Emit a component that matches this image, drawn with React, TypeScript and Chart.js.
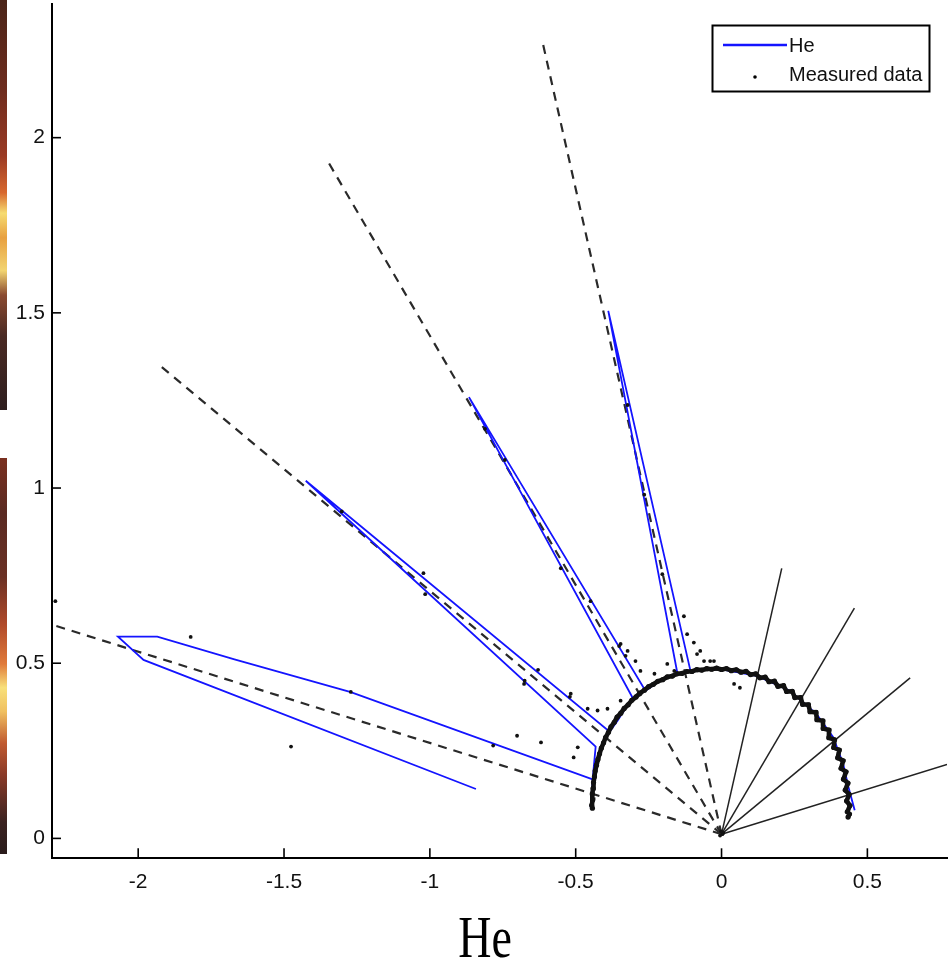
import React, { useEffect, useRef } from "react";
import { Chart, registerables } from "chart.js";

Chart.register(...registerables);

// ---- axis setup ----
const xTicks = [-2, -1.5, -1, -0.5, 0, 0.5];
const yTicks = [0, 0.5, 1, 1.5, 2];
const xMin = -2.2955;
const xMax = 0.773;
const yMin = -0.0568;
const yMax = 2.3815;
const xTitle = "He";

// ---- reference rays (from the origin) ----
const rayOriginX = 0;
const rayOriginY = 0.012;
const dashedEndX = [-2.2955, -1.926, -1.346, -0.6124];
const dashedEndY = [0.61, 1.35, 1.927, 2.268];
const solidEndX = [0.2064, 0.4555, 0.6466, 0.773];
const solidEndY = [0.7708, 0.6571, 0.4583, 0.2111];

// ---- "He" model curve (null = break) ----
const heX = [
  -0.4487, -0.4418, -1.271, -1.67, -1.9346, -2.0693, -1.9817, -0.8421, null,
  -0.4418, -0.4316, -1.4255, -0.3838, -0.3566, -0.3054, -0.8659, -0.261, -0.2201,
  -0.1518, -0.3883, -0.1065, -0.0041, 0.1211, 0.2347, 0.3258, 0.3828, 0.4169, 0.435, 0.4565,
];
const heY = [
  0.0889, 0.1685, 0.4176, 0.5108, 0.5761, 0.5761, 0.5094, 0.1409, null,
  0.1685, 0.2622, 1.0207, 0.3048, 0.3361, 0.4023, 1.2594, 0.4213, 0.4449,
  0.4733, 1.5057, 0.4781, 0.483, 0.4639, 0.4213, 0.3551, 0.2886, 0.2131, 0.1466, 0.0804,
];

// ---- measured data: dense arc (polar angle in degrees, radius) ----
const measArcDeg = [
  169, 168, 166, 164, 162, 160, 158, 156, 154, 152, 150, 148, 146, 144, 142, 140, 138, 136,
  134, 132, 130, 128, 126, 124, 122, 120, 118, 116, 114, 112, 110, 108, 106, 104, 102, 100,
  98, 96, 94, 92, 90, 88, 86, 84, 82, 80, 78, 76, 74, 72, 70, 68, 66, 64, 62, 60, 58, 56,
  54, 52, 50, 48, 46, 44, 42, 40, 38, 36, 34, 32, 30, 28, 26, 24, 22, 20, 18, 16, 14, 12,
  10, 9, 8,
];
const measArcR = [
  0.451, 0.455, 0.455, 0.461, 0.463, 0.467, 0.47, 0.474, 0.477, 0.48, 0.483, 0.486, 0.488,
  0.491, 0.492, 0.495, 0.495, 0.498, 0.497, 0.499, 0.498, 0.5, 0.499, 0.5, 0.499, 0.5,
  0.498, 0.499, 0.496, 0.497, 0.493, 0.494, 0.49, 0.491, 0.487, 0.489, 0.485, 0.487, 0.484,
  0.486, 0.482, 0.485, 0.48, 0.484, 0.479, 0.484, 0.478, 0.484, 0.477, 0.484, 0.476, 0.484,
  0.475, 0.485, 0.475, 0.485, 0.474, 0.485, 0.473, 0.484, 0.472, 0.484, 0.471, 0.483, 0.469,
  0.481, 0.467, 0.479, 0.464, 0.476, 0.46, 0.472, 0.456, 0.467, 0.451, 0.461, 0.446, 0.455,
  0.442, 0.45, 0.438, 0.444, 0.438,
];

// ---- measured data: scattered points ----
const measX = [
  -1.82, -1.271, -1.476, -0.783, -0.701, -0.619, -0.507, -0.629, -0.677, -0.52, -0.459, -0.425,
  -2.284, -1.302, -1.022, -1.016, -0.675, -0.517, -0.743, -0.811, -0.551, -0.449, -0.351, -0.329,
  -0.322, -0.265, -0.203, -0.129, -0.118, -0.095, -0.073, -0.039, -0.186, -0.295, -0.322, -0.346,
  -0.493, -0.391, -0.346, -0.278, -0.23, -0.162, -0.084, -0.06, -0.026, 0.043, 0.063,
  0.003, -0.005, 0.006, -0.002,
];
const measY = [
  0.575, 0.418, 0.262, 0.265, 0.293, 0.274, 0.231, 0.481, 0.441, 0.404, 0.37, 0.365,
  0.677, 0.933, 0.757, 0.697, 0.45, 0.413, 1.08, 1.169, 0.771, 0.677, 0.549, 0.521,
  1.237, 0.981, 0.754, 0.634, 0.583, 0.559, 0.535, 0.506, 0.498, 0.506, 0.535, 0.555,
  0.26, 0.37, 0.393, 0.478, 0.47, 0.478, 0.526, 0.506, 0.506, 0.441, 0.43,
  0.012, 0.008, 0.016, 0.02,
];

const legendLabels = ["He", "Measured data"];
const heColor = "#1414ff";

function splitSegments(xs: (number | null)[], ys: (number | null)[]) {
  const segs: { x: number; y: number }[][] = [];
  let cur: { x: number; y: number }[] = [];
  xs.forEach((x, i) => {
    const y = ys[i];
    if (x === null || y === null) {
      if (cur.length) segs.push(cur);
      cur = [];
    } else cur.push({ x, y });
  });
  if (cur.length) segs.push(cur);
  return segs;
}

const tickFont = { family: "'Liberation Sans', Arial, sans-serif", size: 21 };

const inwardTicks = {
  id: "inwardTicks",
  afterDraw(chart: any) {
    const { ctx, chartArea: a } = chart;
    const xs = chart.scales.x;
    const ys = chart.scales.y;
    ctx.save();
    ctx.strokeStyle = "#000";
    ctx.lineWidth = 1.6;
    xs.ticks.forEach((t: any) => {
      const px = xs.getPixelForValue(t.value);
      ctx.beginPath();
      ctx.moveTo(px, a.bottom);
      ctx.lineTo(px, a.bottom - 10);
      ctx.stroke();
    });
    ys.ticks.forEach((t: any) => {
      const py = ys.getPixelForValue(t.value);
      ctx.beginPath();
      ctx.moveTo(a.left, py);
      ctx.lineTo(a.left + 9, py);
      ctx.stroke();
    });
    // x-axis title, drawn slightly tall like the reference
    ctx.fillStyle = "#000";
    ctx.font = "46px 'Liberation Serif', 'Times New Roman', serif";
    ctx.textAlign = "center";
    ctx.textBaseline = "alphabetic";
    ctx.translate(485, 957);
    ctx.scale(1, 1.28);
    ctx.fillText(xTitle, 0, 0);
    ctx.restore();
  },
};

const boxLegend = {
  id: "boxLegend",
  afterDraw(chart: any) {
    const { ctx } = chart;
    const bx = 712.5, by = 25.5, bw = 217, bh = 66;
    ctx.save();
    ctx.fillStyle = "#fff";
    ctx.fillRect(bx, by, bw, bh);
    ctx.strokeStyle = "#000";
    ctx.lineWidth = 2;
    ctx.strokeRect(bx, by, bw, bh);
    ctx.strokeStyle = heColor;
    ctx.lineWidth = 2.5;
    ctx.beginPath();
    ctx.moveTo(723, 45);
    ctx.lineTo(787, 45);
    ctx.stroke();
    ctx.fillStyle = "#000";
    ctx.beginPath();
    ctx.arc(755, 77, 1.8, 0, Math.PI * 2);
    ctx.fill();
    ctx.font = "20px 'Liberation Sans', Arial, sans-serif";
    ctx.textBaseline = "middle";
    ctx.textAlign = "left";
    ctx.fillStyle = "#111";
    ctx.fillText(legendLabels[0], 789, 46);
    ctx.fillText(legendLabels[1], 789, 75);
    ctx.restore();
  },
};

export default function App() {
  const ref = useRef<HTMLCanvasElement>(null);
  useEffect(() => {
    if (!ref.current) return;
    const datasets: any[] = [];

    const arcPts = measArcDeg.map((d, i) => ({
      x: measArcR[i] * Math.cos((d * Math.PI) / 180),
      y: measArcR[i] * Math.sin((d * Math.PI) / 180),
    }));
    datasets.push({
      label: legendLabels[1],
      data: arcPts,
      showLine: true,
      borderColor: "#111",
      borderWidth: 4.6,
      pointRadius: 2.6,
      pointBackgroundColor: "#111",
      pointBorderWidth: 0,
    });
    datasets.push({
      label: legendLabels[1],
      data: measX.map((x, i) => ({ x, y: measY[i] })),
      showLine: false,
      pointRadius: 1.9,
      pointBackgroundColor: "#111",
      pointBorderWidth: 0,
    });
    splitSegments(heX, heY).forEach((seg) =>
      datasets.push({
        label: legendLabels[0],
        data: seg,
        showLine: true,
        borderColor: heColor,
        borderWidth: 1.8,
        pointRadius: 0,
        tension: 0,
      })
    );
    solidEndX.forEach((x, i) =>
      datasets.push({
        label: "ray",
        data: [{ x: rayOriginX, y: rayOriginY }, { x, y: solidEndY[i] }],
        showLine: true,
        borderColor: "#222",
        borderWidth: 1.5,
        pointRadius: 0,
      })
    );
    dashedEndX.forEach((x, i) =>
      datasets.push({
        label: "dashed",
        data: [{ x: rayOriginX, y: rayOriginY }, { x, y: dashedEndY[i] }],
        showLine: true,
        borderColor: "#2a2a2a",
        borderWidth: 2.2,
        borderDash: [9, 7],
        pointRadius: 0,
      })
    );

    const chart = new Chart(ref.current, {
      type: "scatter",
      data: { datasets },
      options: {
        animation: false,
        responsive: false,
        layout: { padding: 0 },
        plugins: { legend: { display: false }, tooltip: { enabled: false } },
        scales: {
          x: {
            type: "linear",
            min: xMin,
            max: xMax,
            afterBuildTicks: (s: any) => {
              s.ticks = xTicks.map((v) => ({ value: v }));
            },
            afterFit: (s: any) => {
              s.height = 103.7;
              s.paddingLeft = 0;
              s.paddingRight = 0;
            },
            ticks: {
              color: "#111",
              font: tickFont,
              padding: 11,
              maxRotation: 0,
              callback: (v: any) => String(Number(Number(v).toFixed(2))),
            },
            grid: { display: false, drawTicks: false },
            border: { display: true, color: "#000", width: 2 },
          },
          y: {
            type: "linear",
            min: yMin,
            max: yMax,
            afterBuildTicks: (s: any) => {
              s.ticks = yTicks.map((v) => ({ value: v }));
            },
            afterFit: (s: any) => {
              s.width = 52;
              s.paddingTop = 0;
              s.paddingBottom = 0;
            },
            ticks: {
              color: "#111",
              font: tickFont,
              padding: 7,
              callback: (v: any) => String(Number(Number(v).toFixed(2))),
            },
            grid: { display: false, drawTicks: false },
            border: { display: true, color: "#000", width: 2 },
          },
        },
      } as any,
      plugins: [inwardTicks, boxLegend],
    });
    return () => chart.destroy();
  }, []);

  const barBase: React.CSSProperties = { position: "absolute", left: 0, width: 7 };
  return (
    <div style={{ position: "absolute", left: 0, top: 0, width: 951, height: 962, background: "#fff" }}>
      <div
        style={{
          ...barBase,
          top: 0,
          height: 410,
          background:
            "linear-gradient(to bottom, #4a2418 0%, #6e2c1e 22%, #9a3a24 38%, #d8682e 47%, #f6dc70 52%, #e8a040 58%, #f2d470 66%, #8a4a30 72%, #4a2a24 82%, #2e1e1e 100%)",
        }}
      />
      <div
        style={{
          ...barBase,
          top: 458,
          height: 396,
          background:
            "linear-gradient(to bottom, #7a3020 0%, #5a2a22 14%, #6a3024 30%, #b04a2a 42%, #e07a3a 52%, #f8e07a 58%, #f0c060 64%, #c05a30 72%, #8a3a28 80%, #3a2220 92%, #2a1c1c 100%)",
        }}
      />
      <canvas ref={ref} width={951} height={962} style={{ position: "absolute", left: 0, top: 0, display: "block" }} />
    </div>
  );
}
